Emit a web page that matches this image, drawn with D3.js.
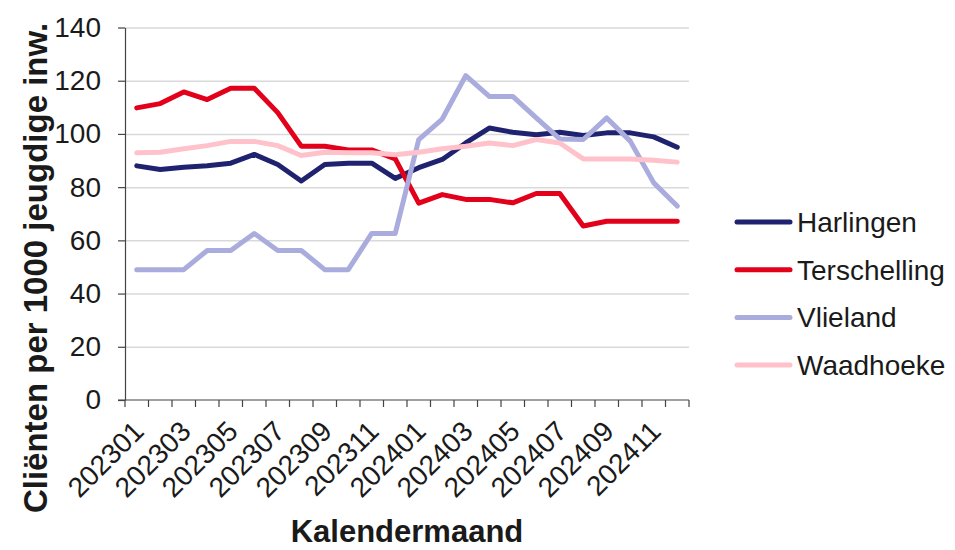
<!DOCTYPE html>
<html>
<head>
<meta charset="utf-8">
<script src="https://cdn.jsdelivr.net/npm/d3@7"></script>
<style>
  body { margin: 0; background: #fff; }
  svg text { font-family: "Liberation Sans", Arial, sans-serif; fill: #1a1a1a; }
  .axis path, .axis line { stroke: #444; }
  .grid line { stroke: #d9d9d9; stroke-width: 1.5; }
  .grid path { display: none; }
</style>
</head>
<body>
<svg width="955" height="550"></svg>
<script>
// months on the x axis
var months = ["202301","202302","202303","202304","202305","202306","202307","202308","202309","202310","202311","202312",
              "202401","202402","202403","202404","202405","202406","202407","202408","202409","202410","202411","202412"];

// clients per 1000 youth inhabitants
var harlingen    = [88, 86.6, 87.5, 88, 89, 92.3, 88.5, 82.3, 88.5, 89, 89, 83.3, 87.3, 90.4, 96.6, 102.2, 100.6, 99.7, 100.6, 99.4, 100.4, 100.4, 98.9, 95];
var terschelling = [109.8, 111.4, 115.8, 112.9, 117.2, 117.2, 108, 95.4, 95.4, 94, 94, 90.6, 74, 77.2, 75.4, 75.4, 74.1, 77.6, 77.6, 65.4, 67.2, 67.2, 67.2, 67.2];
var vlieland     = [49, 49, 49, 56.2, 56.2, 62.6, 56.2, 56.2, 49, 49, 62.6, 62.6, 97.9, 105.6, 121.9, 114.1, 114.1, 106, 98.1, 97.9, 106, 97.3, 81.6, 72.9];
var waadhoeke    = [92.9, 93.1, 94.4, 95.6, 97.2, 97.2, 95.6, 91.9, 93.1, 92.9, 92.9, 92.2, 93.1, 94.4, 95.4, 96.6, 95.6, 97.9, 96.6, 90.6, 90.6, 90.6, 90.1, 89.4];

var seriesNames  = ["Harlingen", "Terschelling", "Vlieland", "Waadhoeke"];
var seriesValues = [harlingen, terschelling, vlieland, waadhoeke];
var colors       = ["#1f236f", "#e2001a", "#a9acdc", "#ffc2ca"];
var yTicks       = [0, 20, 40, 60, 80, 100, 120, 140];

// plot area
var margin = {top: 27.5, left: 125},
    width = 689 - 125,
    height = 400 - 27.5;

var svg = d3.select("svg");
var g = svg.append("g")
    .attr("transform", "translate(" + margin.left + "," + margin.top + ")");

var x = d3.scaleBand().domain(months).range([0, width]).padding(0);
var y = d3.scaleLinear().domain([0, 140]).range([height, 0]);

// gridlines
g.append("g")
    .attr("class", "grid")
    .call(d3.axisLeft(y).tickValues(yTicks.slice(1)).tickSize(-width).tickFormat(""));

// y axis
var yAxis = g.append("g")
    .attr("class", "axis")
    .call(d3.axisLeft(y).tickValues(yTicks).tickSize(7).tickSizeOuter(0).tickPadding(17));
yAxis.selectAll("text").style("font-size", "28px");
yAxis.select(".domain").attr("stroke-width", 1.2);
yAxis.selectAll(".tick line").attr("stroke-width", 1.2);

// x axis line and boundary ticks
var xg = g.append("g").attr("class", "axis").attr("transform", "translate(0," + height + ")");
xg.append("line").attr("x1", -7).attr("x2", width).attr("stroke-width", 1.2);
xg.selectAll(".xt")
    .data(d3.range(months.length + 1))
  .enter().append("line")
    .attr("class", "xt")
    .attr("x1", function(i) { return i * x.step(); })
    .attr("x2", function(i) { return i * x.step(); })
    .attr("y1", 0).attr("y2", 7)
    .attr("stroke-width", 1.2);

// x labels, every second month
xg.selectAll(".xl")
    .data(months.filter(function(d, i) { return i % 2 === 0; }))
  .enter().append("text")
    .attr("class", "xl")
    .attr("transform", function(d) {
        return "translate(" + (x(d) + x.bandwidth() / 2 - 5) + ",19) rotate(-45)";
    })
    .attr("text-anchor", "end")
    .attr("dy", "0.7em")
    .style("font-size", "28px")
    .text(function(d) { return d; });

// lines
var line = d3.line()
    .x(function(d, i) { return x(months[i]) + x.bandwidth() / 2; })
    .y(function(d) { return y(d); });

seriesValues.forEach(function(vals, k) {
    g.append("path")
        .attr("d", line(vals))
        .attr("fill", "none")
        .attr("stroke", colors[k])
        .attr("stroke-width", 5)
        .attr("stroke-linejoin", "round")
        .attr("stroke-linecap", "round");
});

// axis titles
svg.append("text")
    .attr("x", 407)
    .attr("y", 542)
    .attr("text-anchor", "middle")
    .style("font-size", "31px")
    .style("font-weight", "bold")
    .text("Kalendermaand");

svg.append("text")
    .attr("transform", "translate(47,268) rotate(-90)")
    .attr("text-anchor", "middle")
    .style("font-size", "33px")
    .style("font-weight", "bold")
    .text("Cliënten per 1000 jeugdige inw.");

// legend
var legend = svg.append("g").attr("transform", "translate(735,222)");
seriesNames.forEach(function(name, k) {
    var row = legend.append("g").attr("transform", "translate(0," + (k * 47.7) + ")");
    row.append("line")
        .attr("x1", 2).attr("x2", 55)
        .attr("stroke", colors[k])
        .attr("stroke-width", 5)
        .attr("stroke-linecap", "round");
    row.append("text")
        .attr("x", 62)
        .attr("dy", "0.35em")
        .style("font-size", "28px")
        .text(name);
});
</script>
</body>
</html>
